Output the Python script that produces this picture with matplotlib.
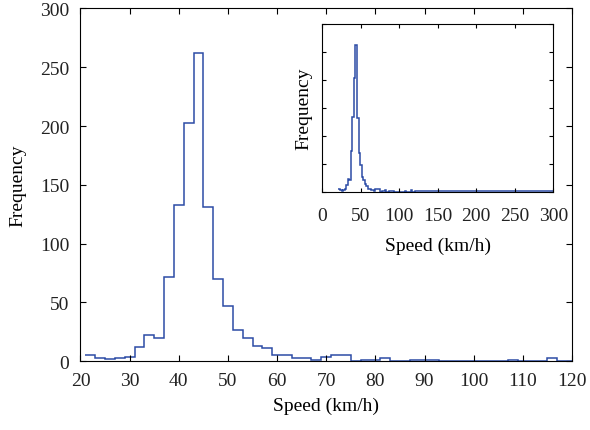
import numpy as np
import matplotlib
matplotlib.use("Agg")
import matplotlib.pyplot as plt

plt.rcParams['font.family'] = ['Liberation Serif', 'DejaVu Serif']
plt.rcParams['text.color'] = '#222222'
plt.rcParams['xtick.labelcolor'] = '#222222'
plt.rcParams['ytick.labelcolor'] = '#222222'

# histogram: 2 km/h bins starting at 21 km/h
bin_start = 21
bin_width = 2
counts = [
    5, 3, 2, 3, 4, 12, 22, 20, 72, 133,
    203, 262, 131, 70, 47, 27, 20, 13, 11, 5,
    5, 3, 3, 1, 4, 5, 5, 0, 1, 1,
    3, 0, 0, 1, 1, 1, 0, 0, 0, 0,
    0, 0, 0, 1, 0, 0, 0, 3, 0, 0,
    # tail past 120 km/h (only visible in the inset)
    1, 1, 1, 1, 1, 1, 1, 1, 1, 1,
    1, 1, 1, 1, 2, 1, 1, 1, 1, 1,
    1, 2, 1, 1, 1, 1, 1, 2, 1, 1,
    1, 1, 1, 1, 1, 1, 1, 1, 1, 1,
    1, 1, 1, 1, 1, 1, 1, 1, 1, 1,
    1, 1, 1, 1, 1, 1, 1, 1, 1, 1,
    1, 1, 1, 1, 1, 1, 1, 1, 1, 1,
    1, 1, 1, 1, 1, 1, 1, 1, 1, 1,
    1, 1, 1, 1, 1, 1, 1, 1, 1,
]
edges = bin_start + bin_width * np.arange(len(counts) + 1)

main_xticks = [20, 30, 40, 50, 60, 70, 80, 90, 100, 110, 120]
main_yticks = [0, 50, 100, 150, 200, 250, 300]
inset_xticks = [0, 50, 100, 150, 200, 250, 300]
inset_yticks = [0, 50, 100, 150, 200, 250, 300]

line_color = '#2c4ca6'
fs = 14

fig = plt.figure(figsize=(5.9, 4.31), dpi=100)

# main axes, only bins below 120 km/h
n_main = int(np.sum(edges[:-1] < 120))
ax = fig.add_axes([0.1364, 0.1594, 0.8331, 0.8186])
ax.stairs(counts[:n_main], edges[:n_main + 1],
          color=line_color, linewidth=1.1, baseline=None)
ax.set_xlim(20, 120)
ax.set_ylim(0, 300)
ax.set_xticks(main_xticks)
ax.set_yticks(main_yticks)
ax.tick_params(direction='in', top=True, right=True, length=4, width=0.8,
               labelsize=fs)
ax.tick_params(axis='x', pad=8)
ax.tick_params(axis='y', pad=8)
ax.set_xlabel('Speed (km/h)', fontsize=fs, labelpad=5)
ax.set_ylabel('Frequency', fontsize=fs, labelpad=10)
for s in ax.spines.values():
    s.set_linewidth(0.8)

# inset
axi = fig.add_axes([0.5463, 0.5530, 0.3915, 0.3890])
axi.stairs(counts, edges, color=line_color, linewidth=1.1, baseline=None)
axi.set_xlim(0, 300)
axi.set_ylim(0, 300)
axi.set_xticks(inset_xticks)
axi.set_yticks(inset_yticks)
axi.set_yticklabels([])
axi.tick_params(direction='in', top=True, right=True, length=3, width=0.8,
                labelsize=fs)
axi.tick_params(axis='x', pad=11)
axi.set_xlabel('Speed (km/h)', fontsize=fs, labelpad=9)
axi.set_ylabel('Frequency', fontsize=fs, labelpad=4)
for s in axi.spines.values():
    s.set_linewidth(0.8)

fig.savefig('out.png', dpi=100)
